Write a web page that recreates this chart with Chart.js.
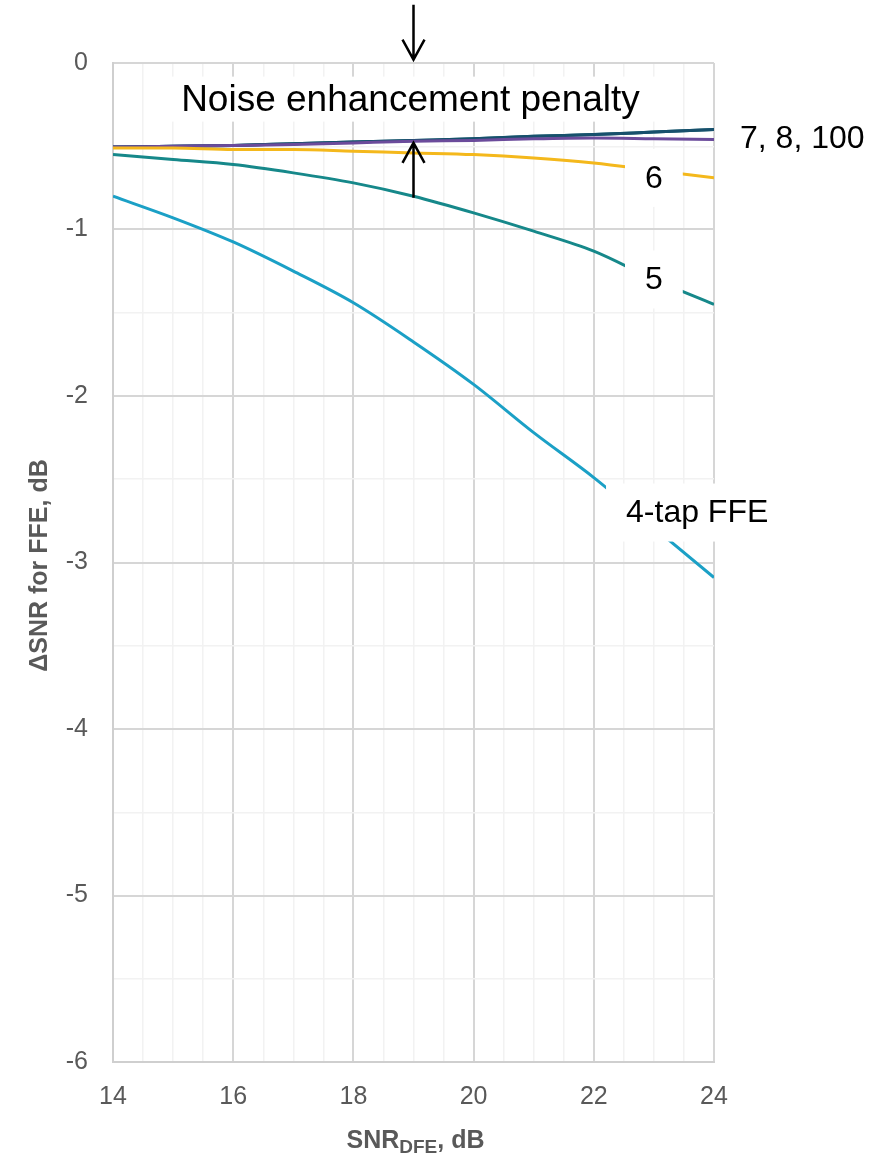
<!DOCTYPE html>
<html>
<head>
<meta charset="utf-8">
<script src="https://cdn.jsdelivr.net/npm/chart.js@4.4.1/dist/chart.umd.min.js"></script>
<style>
  html, body { margin: 0; padding: 0; background: #fff; }
  #wrap { width: 890px; height: 1157px; }
</style>
</head>
<body>
<div id="wrap"><canvas id="chart"></canvas></div>
<script>
// SNR of the DFE, dB (x axis)
var snrDfe = [14, 15, 16, 17, 18, 19, 20, 21, 22, 23, 24];

// delta SNR for FFE, dB, one array per tap count
var tap4   = [-0.80, -0.93, -1.075, -1.25, -1.44, -1.675, -1.93, -2.22, -2.49, -2.79, -3.09];
var tap5   = [-0.55, -0.58, -0.61, -0.66, -0.72, -0.80, -0.90, -1.01, -1.13, -1.30, -1.45];
var tap6   = [-0.51, -0.51, -0.52, -0.52, -0.53, -0.54, -0.55, -0.57, -0.60, -0.645, -0.69];
var tap7   = [-0.505, -0.50, -0.495, -0.49, -0.48, -0.47, -0.465, -0.455, -0.45, -0.455, -0.46];
var tap8   = [-0.505, -0.50, -0.495, -0.485, -0.475, -0.465, -0.455, -0.44, -0.43, -0.415, -0.40];
var tap100 = [-0.505, -0.50, -0.495, -0.485, -0.475, -0.465, -0.455, -0.44, -0.43, -0.415, -0.40];

var xTicks = [14, 16, 18, 20, 22, 24];
var yTicks = [0, -1, -2, -3, -4, -5, -6];

// line labels placed in data units
var lineLabels = [
  { text: '6', x: 23, y: -0.69 },
  { text: '5', x: 23, y: -1.30 },
  { text: '4-tap FFE', x: 23.72, y: -2.70 }
];

var FONT = '"Liberation Sans", Arial, sans-serif';
var GREY = '#595959';

function pts(ys) {
  return snrDfe.map(function (x, i) { return { x: x, y: ys[i] }; });
}

function series(label, ys, color) {
  return {
    label: label,
    data: pts(ys),
    borderColor: color,
    borderWidth: 3,
    pointRadius: 0,
    fill: false,
    cubicInterpolationMode: 'monotone'
  };
}

function arrow(ctx, x, y0, y1) {
  // shaft from y0 to y1, head at y1
  var dir = y1 > y0 ? 1 : -1;
  ctx.beginPath();
  ctx.moveTo(x, y0);
  ctx.lineTo(x, y1);
  ctx.moveTo(x - 11, y1 - dir * 20);
  ctx.lineTo(x, y1);
  ctx.lineTo(x + 11, y1 - dir * 20);
  ctx.stroke();
}

var annotations = {
  id: 'annotations',
  afterDatasetsDraw: function (chart) {
    var ctx = chart.ctx;
    var xs = chart.scales.x, ys = chart.scales.y;
    var area = chart.chartArea;
    ctx.save();

    // white boxed labels on the lines
    ctx.font = '32px ' + FONT;
    ctx.textAlign = 'center';
    ctx.textBaseline = 'middle';
    lineLabels.forEach(function (l) {
      var px = xs.getPixelForValue(l.x), py = ys.getPixelForValue(l.y);
      var w = ctx.measureText(l.text).width + 40;
      ctx.fillStyle = '#fff';
      ctx.fillRect(px - w / 2, py - 29, w, 58);
      ctx.fillStyle = '#000';
      ctx.fillText(l.text, px, py + 1);
    });

    // legend-like label to the right of the top lines
    ctx.textAlign = 'left';
    ctx.fillText('7, 8, 100', area.right + 26, ys.getPixelForValue(-0.455));

    // penalty caption
    ctx.font = '37px ' + FONT;
    ctx.textAlign = 'center';
    var cx = xs.getPixelForValue(18.95), cy = ys.getPixelForValue(-0.22);
    var tw = ctx.measureText('Noise enhancement penalty').width;
    ctx.fillStyle = '#fff';
    ctx.fillRect(cx - tw / 2 - 21, cy - 23, tw + 42, 45);
    ctx.fillStyle = '#000';
    ctx.fillText('Noise enhancement penalty', cx, cy + 1);

    // arrows at SNR = 19
    ctx.strokeStyle = '#000';
    ctx.lineWidth = 2.5;
    var ax = xs.getPixelForValue(19);
    arrow(ctx, ax, ys.getPixelForValue(0.35), ys.getPixelForValue(0.02));
    arrow(ctx, ax, ys.getPixelForValue(-0.81), ys.getPixelForValue(-0.48));

    // axis titles
    ctx.fillStyle = GREY;
    ctx.save();
    ctx.translate(40, (area.top + area.bottom) / 2 + 3);
    ctx.rotate(-Math.PI / 2);
    ctx.font = 'bold 25px ' + FONT;
    ctx.textAlign = 'center';
    ctx.textBaseline = 'middle';
    ctx.fillText('\u0394SNR for FFE, dB', 0, 0);
    ctx.restore();

    var big = 'bold 25px ' + FONT, small = 'bold 19px ' + FONT;
    ctx.textAlign = 'left';
    ctx.textBaseline = 'alphabetic';
    ctx.font = big;  var w1 = ctx.measureText('SNR').width;
    ctx.font = small; var w2 = ctx.measureText('DFE').width;
    ctx.font = big;  var w3 = ctx.measureText(', dB').width;
    var tx = (area.left + area.right) / 2 + 2 - (w1 + w2 + w3) / 2;
    var by = 1148;
    ctx.font = big;   ctx.fillText('SNR', tx, by);
    ctx.font = small; ctx.fillText('DFE', tx + w1, by + 5);
    ctx.font = big;   ctx.fillText(', dB', tx + w1 + w2, by);

    ctx.restore();
  }
};

new Chart(document.getElementById('chart'), {
  type: 'line',
  data: {
    datasets: [
      series('4-tap FFE', tap4, '#1ba0c6'),
      series('5', tap5, '#16888a'),
      series('6', tap6, '#f4b81c'),
      series('7', tap7, '#6b4b9b'),
      series('8', tap8, '#17506c'),
      series('100', tap100, '#0f5a6c')
    ]
  },
  options: {
    responsive: true,
    maintainAspectRatio: false,
    animation: false,
    layout: { padding: { top: 63, right: 176, left: 0, bottom: 0 } },
    plugins: {
      legend: { display: false },
      tooltip: { enabled: false }
    },
    scales: {
      x: {
        type: 'linear',
        min: 14,
        max: 24,
        afterFit: function (s) { s.height = 95; },
        ticks: {
          stepSize: 0.5,
          autoSkip: false,
          maxRotation: 0,
          padding: 20,
          color: GREY,
          font: { family: FONT, size: 25 },
          callback: function (v) { return xTicks.indexOf(v) >= 0 ? String(v) : ''; }
        },
        grid: {
          drawTicks: false,
          color: function (c) { return xTicks.indexOf(c.tick.value) >= 0 ? '#d6d6d6' : '#f2f2f2'; },
          lineWidth: function (c) { return xTicks.indexOf(c.tick.value) >= 0 ? 2 : 1.5; }
        },
        border: { color: '#cfcfcf', width: 2 }
      },
      y: {
        min: -6,
        max: 0,
        afterFit: function (s) { s.width = 113; },
        ticks: {
          stepSize: 0.5,
          autoSkip: false,
          padding: 25,
          color: GREY,
          font: { family: FONT, size: 25 },
          callback: function (v) { return yTicks.indexOf(v) >= 0 ? String(v) : ''; }
        },
        grid: {
          drawTicks: false,
          color: function (c) { return yTicks.indexOf(c.tick.value) >= 0 ? '#d6d6d6' : '#f2f2f2'; },
          lineWidth: function (c) { return yTicks.indexOf(c.tick.value) >= 0 ? 2 : 1.5; }
        },
        border: { color: '#cfcfcf', width: 2 }
      }
    }
  },
  plugins: [annotations]
});
</script>
</body>
</html>
